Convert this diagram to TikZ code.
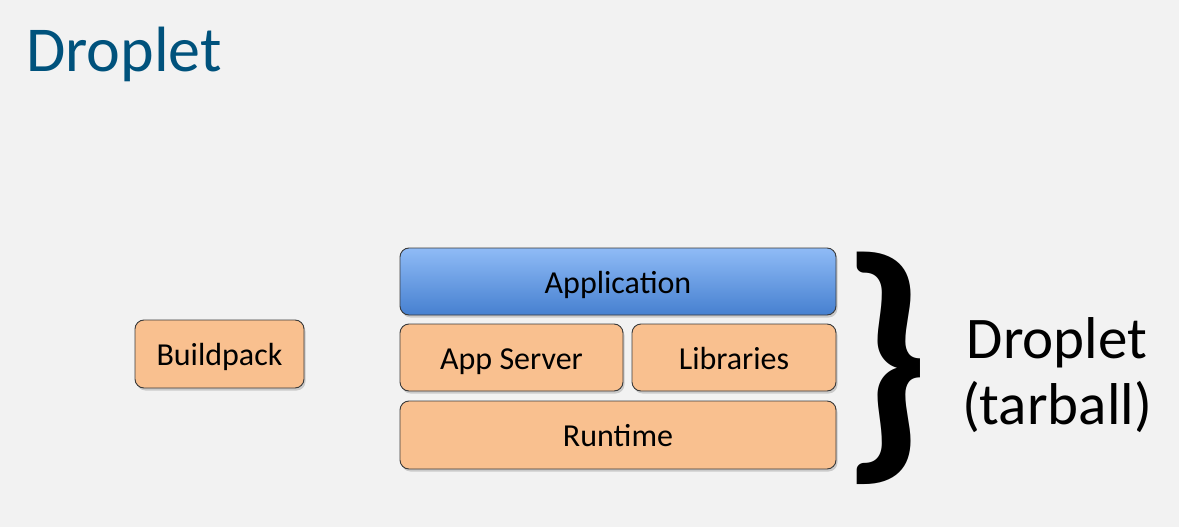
\documentclass[tikz,border=0pt]{standalone}
\usepackage{fontspec}
\setmainfont{Carlito}
\usetikzlibrary{shadows}
\definecolor{bg}{HTML}{F2F2F2}
\definecolor{orangefill}{HTML}{F9C08F}
\definecolor{bluetop}{HTML}{8FBBF6}
\definecolor{bluebot}{HTML}{4680D0}
\definecolor{titleblue}{HTML}{00527C}
\definecolor{edge}{HTML}{3A3A3A}
\tikzset{
  layer/.style={draw=edge, line width=0.9pt, rounded corners=9pt, inner sep=0pt,
    font=\fontsize{32}{36}\selectfont, text height=26pt, text depth=3pt,
    drop shadow={opacity=0.35, shadow xshift=1.5pt, shadow yshift=-2.5pt}},
  orangebox/.style={layer, fill=orangefill},
  bluebox/.style={layer, top color=bluetop, bottom color=bluebot},
}
\begin{document}
\begin{tikzpicture}[x=1pt,y=-1pt]
\fill[bg] (0,0) rectangle (1179,527);
\useasboundingbox (0,0) rectangle (1179,527);
\node[anchor=base west, text=titleblue, font=\fontsize{64}{70}\selectfont, inner sep=0pt] (title) at (26,72) {Droplet};
\node[bluebox, minimum width=436pt, minimum height=67pt] (app) at (618,281.5) {Application};
\node[orangebox, minimum width=223pt, minimum height=67pt] (srv) at (511.5,357.5) {App Server};
\node[orangebox, minimum width=204pt, minimum height=67pt] (lib) at (734,357.5) {Libraries};
\node[orangebox, minimum width=436pt, minimum height=68pt] (rt) at (618,435) {Runtime};
\node[orangebox, minimum width=169pt, minimum height=68pt] (bp) at (219.5,354) {Buildpack};
\node[inner sep=0pt, font=\fontsize{265}{265}\bfseries] (brace) at (886,368) {\}};
\node[align=center, inner sep=0pt, font=\fontsize{59}{66}\selectfont] (lbl) at (1057,375) {Droplet\\(tarball)};
\end{tikzpicture}
\end{document}
